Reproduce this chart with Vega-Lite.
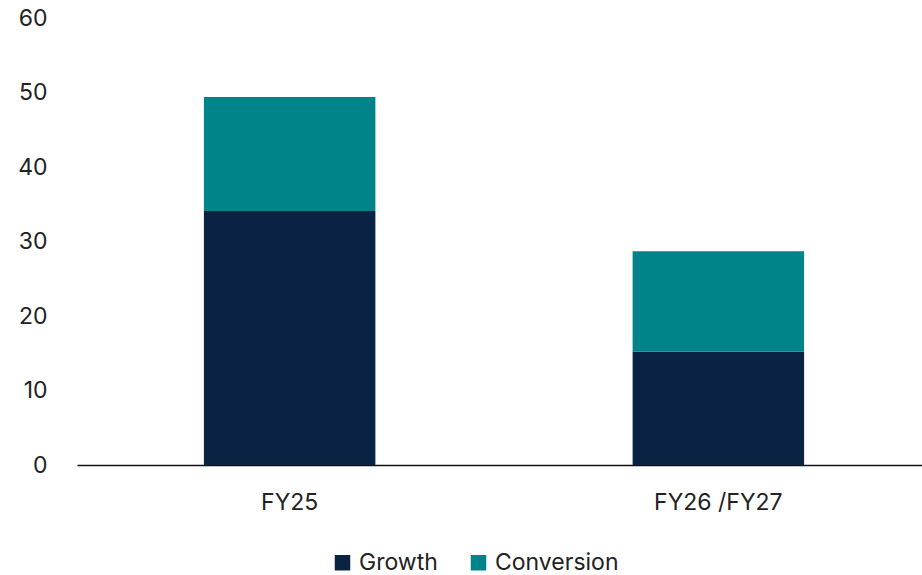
{
  "$schema": "https://vega.github.io/schema/vega-lite/v6.json",
  "width": 854,
  "height": 447,
  "autosize": "none",
  "padding": {"left": 77, "top": 18, "right": 0, "bottom": 110},
  "config": {
    "view": {"stroke": null},
    "font": "Inter"
  },
  "data": {
    "values": [
      {"period": "FY25", "type": "Growth", "value": 34.1, "ord": 1},
      {"period": "FY25", "type": "Conversion", "value": 15.3, "ord": 2},
      {"period": "FY26 /FY27", "type": "Growth", "value": 15.2, "ord": 1},
      {"period": "FY26 /FY27", "type": "Conversion", "value": 13.5, "ord": 2}
    ]
  },
  "mark": {"type": "bar"},
  "encoding": {
    "x": {
      "field": "period",
      "type": "nominal",
      "sort": null,
      "scale": {"paddingInner": 0.6, "paddingOuter": 0.296},
      "axis": {
        "title": null,
        "labelAngle": 0,
        "labelFontSize": 23,
        "labelColor": "#222",
        "labelPadding": 26,
        "ticks": false,
        "domainColor": "#111",
        "domainWidth": 1.5
      }
    },
    "y": {
      "field": "value",
      "type": "quantitative",
      "stack": "zero",
      "scale": {"domain": [0, 60]},
      "axis": {
        "title": null,
        "values": [0, 10, 20, 30, 40, 50, 60],
        "grid": false,
        "domain": false,
        "ticks": false,
        "labelFontSize": 23,
        "labelColor": "#222",
        "labelPadding": 30
      }
    },
    "color": {
      "field": "type",
      "type": "nominal",
      "scale": {"domain": ["Growth", "Conversion"], "range": ["#0B2343", "#00848A"]},
      "legend": {
        "title": null,
        "orient": "none",
        "legendX": 254,
        "legendY": 533,
        "direction": "horizontal",
        "symbolType": "square",
        "symbolSize": 240,
        "symbolStrokeWidth": 0,
        "labelFontSize": 23,
        "labelColor": "#222",
        "columnPadding": 29,
        "labelOffset": 5
      }
    },
    "order": {"field": "ord", "type": "quantitative"}
  }
}
